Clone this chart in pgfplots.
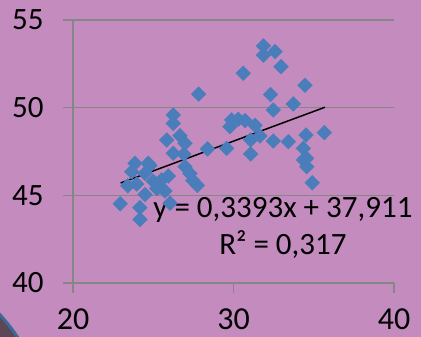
\documentclass[border=0pt]{standalone}
\usepackage{pgfplots}
\pgfplotsset{compat=1.18}
\usepackage{fontspec}
\setmainfont{Carlito}
\definecolor{bgc}{RGB}{196,139,190}
\definecolor{mk}{RGB}{74,126,187}
\definecolor{gr}{RGB}{134,134,134}
\definecolor{decoin}{RGB}{92,72,84}
\definecolor{decoedge}{RGB}{60,105,155}
\begin{document}
\begin{tikzpicture}
\useasboundingbox (0,0) rectangle (421pt,337pt);
\clip (0,0) rectangle (421pt,337pt);
\fill[bgc] (0,0) rectangle (421pt,337pt);
\filldraw[fill=decoin,draw=decoedge,line width=3pt] (-150pt,-113pt) circle (202pt);
\begin{axis}[
  at={(73pt,54pt)}, anchor=south west,
  scale only axis, width=321pt, height=263pt,
  xmin=20, xmax=40, ymin=40, ymax=55,
  axis x line=bottom, axis y line=left,
  axis line style={gr, line width=1.5pt, -},
  xtick={20,30,40}, ytick={40,45,50,55},
  ymajorgrids, grid style={gr, line width=1.5pt},
  tick align=outside, major tick length=10pt,
  tick style={gr, line width=1.5pt},
  ticklabel style={font=\fontsize{31}{36}\selectfont, text=black},
  /pgf/number format/assume math mode=true,
  yticklabel style={xshift=-16pt},
  xticklabel style={anchor=north, inner sep=0pt, yshift=-16pt, font=\fontsize{32}{36}\selectfont},
  clip=false,
]
\addplot[only marks, mark=square*, mark size=5.2pt, mark options={rotate=45, fill=mk, draw=mk}] coordinates {
(22.95,44.52) (23.41,45.55) (23.66,46.35) (23.86,46.83) (23.97,45.65)
(24.17,44.30) (24.17,43.62) (24.49,45.05) (24.49,46.26) (24.69,46.83)
(24.80,46.70) (25.00,45.80) (25.21,45.40) (25.31,45.45) (25.52,45.88)
(25.73,45.25) (25.94,46.10) (25.84,48.16) (26.25,49.58) (26.25,49.10)
(26.25,47.40) (26.05,44.55) (26.67,48.40) (26.98,47.97) (26.91,47.35)
(26.98,46.63) (27.29,46.25) (27.46,45.85) (27.75,45.57) (27.83,50.77)
(28.38,47.65) (29.57,47.68) (29.78,48.92) (29.88,49.30) (30.30,49.34)
(30.61,51.96) (30.72,49.26) (31.07,48.16) (31.07,47.36) (31.34,49.00)
(31.65,48.39) (31.86,53.52) (31.86,53.00) (32.59,53.20) (32.31,50.75)
(32.48,49.87) (32.48,48.10) (32.96,52.34) (33.42,48.06) (33.73,50.21)
(34.45,51.28) (34.52,48.44) (34.35,47.68) (34.35,47.02) (34.56,47.11)
(34.56,46.63) (34.91,45.72) (35.66,48.58)
};
\addplot[black, line width=1.5pt] coordinates {(22.97,45.705) (35.70,50.024)};
\node[anchor=base, font=\fontsize{31}{36}\selectfont] at (axis cs:33.08,43.71) {y = 0,3393x + 37,911};
\node[anchor=base, font=\fontsize{31}{36}\selectfont] at (axis cs:33.08,41.60) {R² = 0,317};
\end{axis}
\end{tikzpicture}
\end{document}
